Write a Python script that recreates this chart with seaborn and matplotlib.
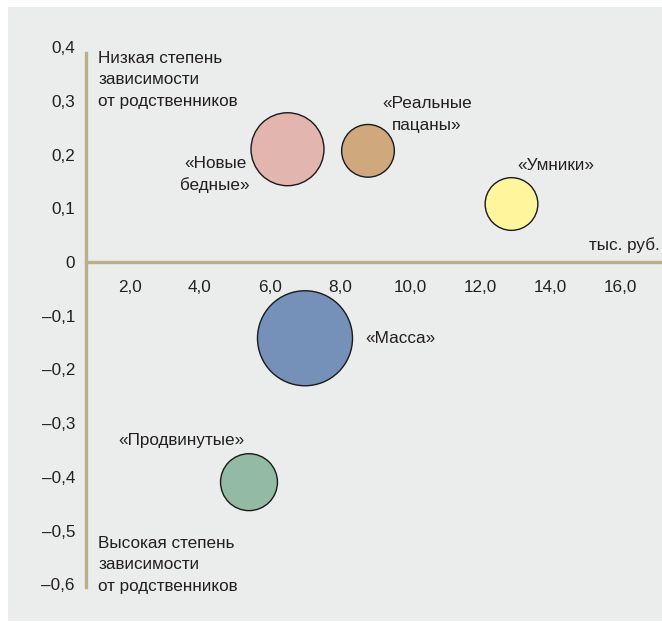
import matplotlib
matplotlib.use("Agg")
import matplotlib.pyplot as plt
import matplotlib.patches as mpatches
import seaborn as sns
import pandas as pd

# Groups: average income (thousand rubles) vs dependence on relatives
groups = ["«Новые\nбедные»", "«Реальные\nпацаны»", "«Умники»", "«Масса»", "«Продвинутые»"]
income = [6.5, 8.8, 12.9, 7.0, 5.4]
dependence = [0.21, 0.207, 0.108, -0.142, -0.41]
share = [23, 12, 12, 39, 14]
colors = ["#E2B5AF", "#CFA87E", "#FFF59C", "#7590B9", "#93BBA3"]

x_ticks = [2, 4, 6, 8, 10, 12, 14, 16]
y_ticks = [0.4, 0.3, 0.2, 0.1, 0.0, -0.1, -0.2, -0.3, -0.4, -0.5, -0.6]

# label placement: (x, y, horizontal alignment)
label_pos = [(4.43, 0.163, "center"), (10.49, 0.275, "center"), (14.17, 0.179, "center"),
             (8.71, -0.143, "left"), (3.46, -0.333, "center")]

df = pd.DataFrame({"group": groups, "income": income, "dependence": dependence, "share": share})

sns.set_style("white")
FONT = ["Liberation Sans", "DejaVu Sans"]
plt.rcParams["font.family"] = FONT
TXT = "#231F20"
AXC = "#B7B08A"
FS = 12.3
LS = 1.55

W, H = 662, 623
fig = plt.figure(figsize=(W / 100, H / 100), dpi=100, facecolor="white")

# light grey panel behind the chart
fig.patches.append(mpatches.Rectangle((8 / W, 1 - 621 / H), (W - 8) / W, (621 - 7) / H,
                                      transform=fig.transFigure, facecolor="#EBECEC",
                                      edgecolor="none", zorder=-10))

# axes geometry in pixels
x0_px, px_per_x = 60.0, 35.0
y0_px, px_per_y = 262.0, 537.0
xlim = ((86 - x0_px) / px_per_x, (W - x0_px) / px_per_x)
ylim = (-0.66, 0.45)
top_px = y0_px - ylim[1] * px_per_y
bot_px = y0_px - ylim[0] * px_per_y
ax = fig.add_axes([86 / W, 1 - bot_px / H, (W - 86) / W, (bot_px - top_px) / H])
ax.set_zorder(1)
ax.set_facecolor("none")
ax.set_xlim(*xlim)
ax.set_ylim(*ylim)

sns.scatterplot(data=df, x="income", y="dependence", hue="group", palette=colors,
                size="share", sizes=(0, 4680), size_norm=(0, 39),
                edgecolor="#1a1a1a", linewidth=1.0, alpha=1, legend=False, ax=ax, zorder=3)

# axes lines
for s in ["top", "right"]:
    ax.spines[s].set_visible(False)
ax.spines["bottom"].set_position(("data", 0))
ax.spines["bottom"].set_color(AXC)
ax.spines["bottom"].set_linewidth(2.4)
ax.spines["left"].set_color(AXC)
ax.spines["left"].set_linewidth(2.4)
ax.spines["left"].set_bounds(-0.605, 0.39)

ax.set_xticks(x_ticks)
ax.set_xticklabels([f"{v:.1f}".replace(".", ",") for v in x_ticks])
ax.set_yticks(y_ticks)


def yfmt(v):
    if abs(v) < 1e-9:
        return "0"
    s = f"{abs(v):.1f}".replace(".", ",")
    return ("–" + s) if v < 0 else s


ax.set_yticklabels([yfmt(v) for v in y_ticks])
ax.tick_params(axis="x", length=0, pad=13, labelsize=FS, labelcolor=TXT)
ax.tick_params(axis="y", length=0, pad=8, labelsize=FS, labelcolor=TXT)
ax.set_xlabel("")
ax.set_ylabel("")

for name, (lx, ly, ha) in zip(groups, label_pos):
    ax.text(lx, ly, name, ha=ha, va="center", fontsize=FS, color=TXT,
            linespacing=LS, family=FONT, zorder=4)

ax.text(1.09, 0.339, "Низкая степень\nзависимости\nот родственников", ha="left", va="center",
        fontsize=FS, color=TXT, linespacing=LS, family=FONT)
ax.text(1.09, -0.564, "Высокая степень\nзависимости\nот родственников", ha="left", va="center",
        fontsize=FS, color=TXT, linespacing=LS, family=FONT)
ax.text(17.14, 0.032, "тыс. руб.", ha="right", va="center", fontsize=FS, color=TXT, family=FONT)

fig.savefig("out.png", dpi=100, facecolor="white")
